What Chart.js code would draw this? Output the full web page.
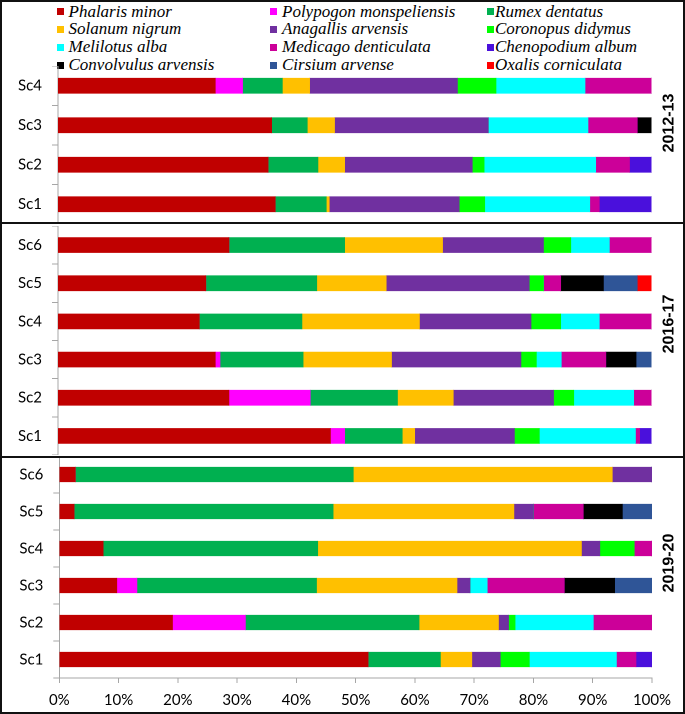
<!DOCTYPE html>
<html><head><meta charset="utf-8">
<script src="https://cdn.jsdelivr.net/npm/chart.js@4.4.1/dist/chart.umd.min.js"></script>
<style>
html,body{margin:0;padding:0;background:#fff;}
#wrap{position:relative;width:685px;height:714px;overflow:hidden;background:#fff;}
canvas{position:absolute;left:0;}
.frame{position:absolute;left:0;top:0;width:685px;height:714px;box-sizing:border-box;border:2px solid #111;pointer-events:none;z-index:5}
.hline{position:absolute;left:0;width:685px;height:2px;background:#111;z-index:5}
.lg{position:absolute;font-family:'Liberation Serif',serif;font-style:italic;font-size:17px;line-height:18px;white-space:nowrap;color:#000}
.bx{position:absolute;width:7px;height:7px}
</style></head><body>
<div id="wrap">
  <div id="legend"></div>
  <canvas id="c1" width="685" height="158" style="top:66px;width:685px;height:158px"></canvas>
  <canvas id="c2" width="685" height="229" style="top:226px;width:685px;height:229px"></canvas>
  <canvas id="c3" width="685" height="258" style="top:456px;width:685px;height:258px"></canvas>
  <div class="hline" style="top:222px"></div>
  <div class="hline" style="top:456px"></div>
  <div class="frame"></div>
</div>
<script>
// Species (stack order) and colours
const species = ['Phalaris minor','Polypogon monspeliensis','Rumex dentatus','Solanum nigrum','Anagallis arvensis','Coronopus didymus','Melilotus alba','Medicago denticulata','Chenopodium album','Convolvulus arvensis','Cirsium arvense','Oxalis corniculata'];
const colors = ['#C00000','#FF00FF','#00B050','#FFC000','#7030A0','#00FF00','#00FFFF','#CC0099','#4A10DC','#000000','#2F5597','#FF0000'];

// X tick values (percent)
const xTicks = [0,10,20,30,40,50,60,70,80,90,100];

// Panel names
const panelNames = ['2012-13','2016-17','2019-20'];

// Panel 1 (2012-13) categories, top to bottom
const p1Labels = ['Sc4','Sc3','Sc2','Sc1'];
//            Pha  Pol  Rum  Sol  Ana  Cor  Mel  Med  Che  Con  Cir  Oxa
const p1_Sc4 = [26.5,4.6, 6.7, 4.6, 24.9,6.5, 15.0,11.2,0,   0,   0,   0];
const p1_Sc3 = [36.0,0,   6.0, 4.6, 25.9,0,   16.8,8.3, 0,   2.4, 0,   0];
const p1_Sc2 = [35.4,0,   8.4, 4.5, 21.5,2.0, 18.8,5.7, 3.7, 0,   0,   0];
const p1_Sc1 = [36.6,0,   8.6, 0.5, 21.9,4.3, 17.7,1.6, 8.8, 0,   0,   0];

// Panel 2 (2016-17)
const p2Labels = ['Sc6','Sc5','Sc4','Sc3','Sc2','Sc1'];
const p2_Sc6 = [28.8,0,   19.5,16.5,17.0,4.6, 6.5, 7.1, 0,   0,   0,   0];
const p2_Sc5 = [24.9,0,   18.7,11.7,24.1,2.4, 0,   2.9, 0,   7.2, 5.7, 2.4];
const p2_Sc4 = [23.8,0,   17.3,19.8,18.8,5.0, 6.5, 8.8, 0,   0,   0,   0];
const p2_Sc3 = [26.5,0.8, 14.0,14.9,21.8,2.6, 4.2, 7.5, 0,   5.1, 2.6, 0];
const p2_Sc2 = [28.8,13.7,14.7,9.4, 16.9,3.4, 10.1,3.0, 0,   0,   0,   0];
const p2_Sc1 = [45.9,2.4, 9.7, 2.1, 16.8,4.2, 16.2,0.7, 2.0, 0,   0,   0];

// Panel 3 (2019-20)
const p3Labels = ['Sc6','Sc5','Sc4','Sc3','Sc2','Sc1'];
const p3_Sc6 = [2.7, 0,   46.9,43.7,6.7, 0,   0,   0,   0,   0,   0,   0];
const p3_Sc5 = [2.5, 0,   43.7,30.5,3.3, 0,   0,   8.4, 0,   6.6, 5.0, 0];
const p3_Sc4 = [7.4, 0,   36.2,44.5,3.1, 5.8, 0,   3.0, 0,   0,   0,   0];
const p3_Sc3 = [9.7, 3.4, 30.3,23.7,2.2, 0,   2.9, 13.0,0,   8.5, 6.3, 0];
const p3_Sc2 = [19.1,12.3,29.3,13.4,1.7, 1.1, 13.2,9.9, 0,   0,   0,   0];
const p3_Sc1 = [52.1,0,   12.2,5.3, 4.8, 4.9, 14.7,3.3, 2.7, 0,   0,   0];

// ---- HTML legend (3 columns) ----
const legCols = [{bx:57,tx:68.5},{bx:269.5,tx:282},{bx:487,tx:495}];
const legRowsY = [11.7,29.3,47.3,65];
const legendEl = document.getElementById('legend');
species.forEach((name,i)=>{
  const c = legCols[i%3], yc = legRowsY[Math.floor(i/3)];
  const b = document.createElement('div');
  b.className='bx'; b.style.left=c.bx+'px'; b.style.top=(yc-3.5)+'px'; b.style.background=colors[i];
  const t = document.createElement('div');
  t.className='lg'; t.style.left=c.tx+'px'; t.style.top=(yc-9)+'px'; t.textContent=name;
  legendEl.appendChild(b); legendEl.appendChild(t);
});

const axisGray = '#A6A6A6';
const panelLabel = {
  id:'panelLabel',
  afterDraw(chart, args, o){
    const ctx = chart.ctx;
    ctx.save();
    ctx.translate(o.x, o.y);
    ctx.rotate(-Math.PI/2);
    ctx.font = 'bold 16px "Liberation Sans", Arial, sans-serif';
    ctx.fillStyle = '#000';
    ctx.textAlign = 'center';
    ctx.textBaseline = 'middle';
    ctx.fillText(o.text, 0, 0);
    ctx.restore();
  }
};

function makeChart(id, labels, rows, opt){
  const datasets = species.map((name,i)=>({
    label:name,
    data: rows.map(r=>r[i]),
    backgroundColor: colors[i],
    borderWidth:0,
    barThickness: opt.bar
  }));
  return new Chart(document.getElementById(id), {
    type:'bar',
    data:{labels, datasets},
    options:{
      indexAxis:'y',
      responsive:false,
      animation:false,
      devicePixelRatio: 2,
      layout:{padding:{left:0,right:opt.padRight,top:0,bottom:0}},
      plugins:{legend:{display:false}, tooltip:{enabled:false}, panelLabel:{text:opt.title,x:669,y:opt.titleY}},
      scales:{
        x:{
          stacked:true, min:0, max:100,
          display: opt.showX,
          afterBuildTicks: s => { s.ticks = xTicks.map(v=>({value:v})); },
          afterFit: s => { if (opt.showX) s.height = opt.xHeight; s.paddingLeft = 0; s.paddingRight = 0; },
          grid:{drawOnChartArea:false, drawTicks:true, tickLength:5, color:axisGray},
          border:{color:axisGray},
          ticks:{color:'#000', font:{family:'Lato', size:15}, padding:8, maxRotation:0, autoSkip:false, callback:v=>v+'%'}
        },
        y:{
          stacked:true,
          afterFit: s => { s.width = opt.yWidth; s.paddingTop = 0; s.paddingBottom = 0; },
          grid:{drawOnChartArea:false, offset:true, drawTicks:true, tickLength:6, color:axisGray},
          border:{color:axisGray},
          ticks:{color:'#000', font:{family:'Lato', size:15}, padding:10}
        }
      }
    },
    plugins:[panelLabel]
  });
}

makeChart('c1', p1Labels, [p1_Sc4,p1_Sc3,p1_Sc2,p1_Sc1],
  {bar:15, padRight:33.5, yWidth:58, showX:false, title:panelNames[0], titleY:123-66});
makeChart('c2', p2Labels, [p2_Sc6,p2_Sc5,p2_Sc4,p2_Sc3,p2_Sc2,p2_Sc1],
  {bar:15, padRight:33.5, yWidth:58, showX:false, title:panelNames[1], titleY:324-226});
makeChart('c3', p3Labels, [p3_Sc6,p3_Sc5,p3_Sc4,p3_Sc3,p3_Sc2,p3_Sc1],
  {bar:14.5, padRight:33, yWidth:59.3, showX:true, xHeight:36, title:panelNames[2], titleY:563-456});
</script>
</body></html>
